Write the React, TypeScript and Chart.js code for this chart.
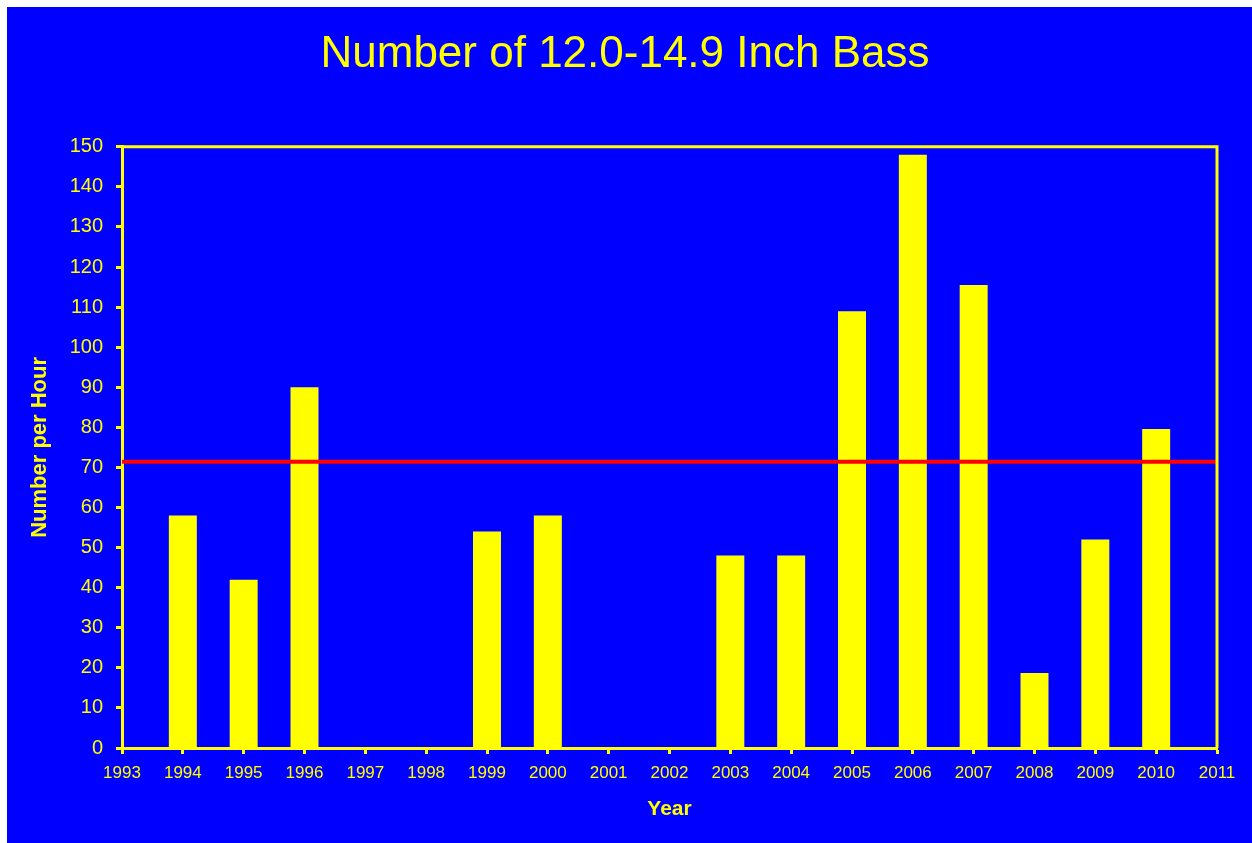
import React, { useEffect, useRef } from "react";
import { Chart, registerables } from "chart.js";

Chart.register(...registerables);

const years = ["1993","1994","1995","1996","1997","1998","1999","2000","2001","2002","2003","2004","2005","2006","2007","2008","2009","2010","2011"];
const bassPerHour: (number | null)[] = [null, 58, 42, 90, null, null, 54, 58, null, null, 48, 48, 109, 148, 115.5, 18.7, 52, 79.6, null];
const averageValue = 71.4;
const averageLine = years.map(() => averageValue);
const titleText = "Number of 12.0-14.9 Inch Bass";
const xTitle = "Year";
const yTitle = "Number per Hour";

const YELLOW = "#FFFF00";
const BLUE = "#0000FF";
const RED = "#FF0000";
const FONT = "'Liberation Sans', Arial, Helvetica, sans-serif";

const framePlugin = {
  id: "frame",
  afterDraw(chart: any) {
    const { ctx, chartArea } = chart;
    ctx.save();
    ctx.strokeStyle = YELLOW;
    ctx.lineWidth = 3;
    ctx.beginPath();
    ctx.moveTo(chartArea.left, chartArea.top);
    ctx.lineTo(chartArea.right, chartArea.top);
    ctx.lineTo(chartArea.right, chartArea.bottom);
    ctx.stroke();
    ctx.restore();
  },
};

export default function App() {
  const ref = useRef<HTMLCanvasElement>(null);
  useEffect(() => {
    if (!ref.current) return;
    const chart = new Chart(ref.current, {
      type: "bar",
      data: {
        labels: years,
        datasets: [
          {
            type: "line",
            data: averageLine,
            borderColor: RED,
            borderWidth: 4,
            pointRadius: 0,
            fill: false,
            order: 0,
            yAxisID: "y",
          } as any,
          {
            type: "bar",
            data: bassPerHour,
            backgroundColor: YELLOW,
            borderWidth: 0,
            barPercentage: 0.46,
            categoryPercentage: 1,
            order: 1,
            yAxisID: "y",
          },
        ],
      },
      options: {
        responsive: false,
        animation: false,
        layout: { padding: { left: 0, right: 9, top: 0, bottom: 0 } },
        plugins: {
          legend: { display: false },
          tooltip: { enabled: false },
          title: {
            display: true,
            text: titleText,
            color: YELLOW,
            font: { family: FONT, size: 44, weight: "normal" },
            padding: { top: 21, bottom: 66 },
          },
        },
        scales: {
          x: {
            offset: false,
            grid: {
              display: true,
              offset: false,
              drawOnChartArea: false,
              drawTicks: true,
              tickLength: 6,
              tickColor: YELLOW,
              tickWidth: 3,
              color: YELLOW,
            },
            border: { display: true, color: YELLOW, width: 3 },
            ticks: {
              color: YELLOW,
              font: { family: FONT, size: 17 },
              padding: 9,
              autoSkip: false,
              maxRotation: 0,
            },
            title: {
              display: true,
              text: xTitle,
              color: YELLOW,
              font: { family: FONT, size: 21, weight: "bold" },
              padding: { top: 0, bottom: 21.5 },
            },
            afterFit(scale: any) {
              scale.height = 95;
            },
          },
          y: {
            min: 0,
            max: 150,
            grid: {
              display: true,
              drawOnChartArea: false,
              drawTicks: true,
              tickLength: 6,
              tickColor: YELLOW,
              tickWidth: 3,
              color: YELLOW,
            },
            border: { display: true, color: YELLOW, width: 3 },
            ticks: {
              stepSize: 10,
              color: YELLOW,
              font: { family: FONT, size: 20 },
              padding: 13,
            },
            title: {
              display: true,
              text: yTitle,
              color: YELLOW,
              font: { family: FONT, size: 22, weight: "bold" },
              padding: { top: 19.5, bottom: 0 },
            },
            afterFit(scale: any) {
              scale.width = 115;
            },
          },
          yRight: {
            position: "right",
            display: true,
            min: 0,
            max: 150,
            grid: { display: false, drawTicks: false },
            border: { display: false },
            ticks: { display: false },
            afterFit(scale: any) {
              scale.width = 26;
            },
          },
        },
      },
      plugins: [framePlugin],
    });
    return () => chart.destroy();
  }, []);

  return (
    <div
      style={{
        position: "absolute",
        left: 7,
        top: 7,
        width: 1245,
        height: 836,
        background: BLUE,
      }}
    >
      <canvas ref={ref} width={1245} height={836} style={{ display: "block" }} />
    </div>
  );
}
